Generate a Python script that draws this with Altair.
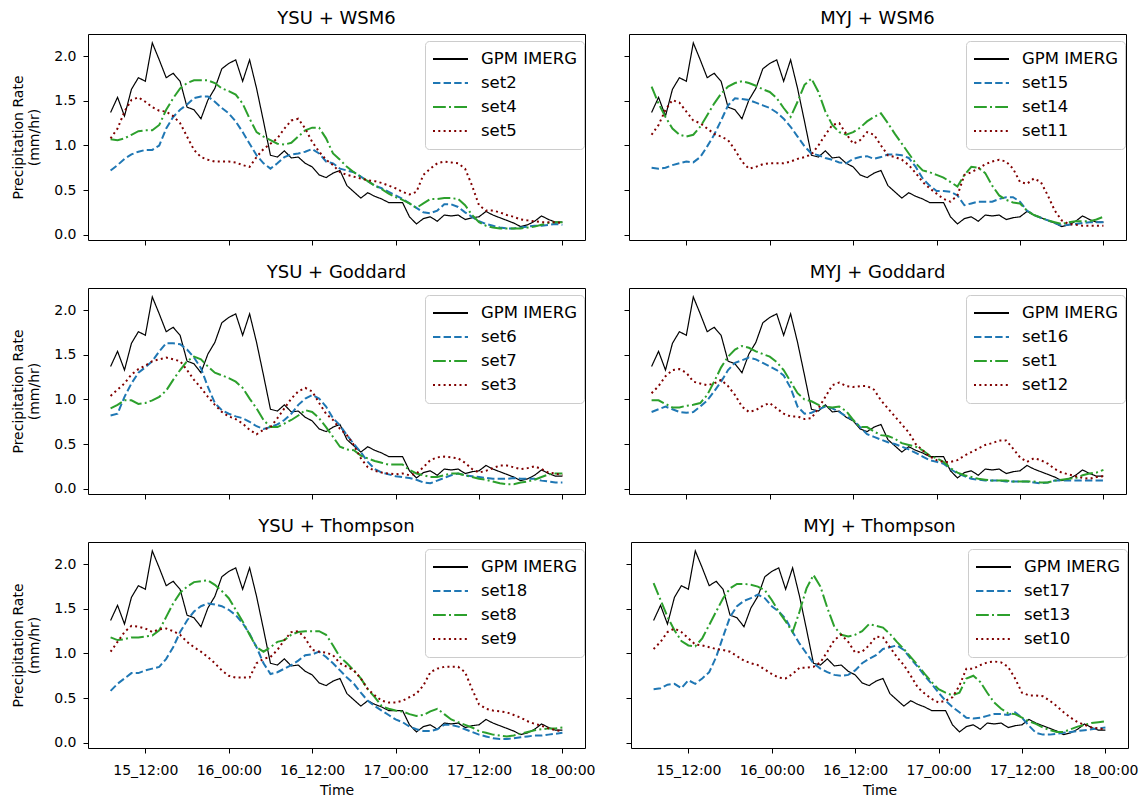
import altair as alt
import pandas as pd

# hours after 15_00:00 (hourly, 15_07:00 ... 18_00:00)
hours = list(range(7, 73))

gpm = [1.37, 1.54, 1.33, 1.63, 1.76, 1.72, 2.15, 1.96, 1.76, 1.81, 1.72, 1.43, 1.40, 1.30, 1.51, 1.64, 1.86,
       1.92, 1.96, 1.72, 1.96, 1.64, 1.27, 0.89, 0.87, 0.94, 0.86, 0.87, 0.80, 0.76, 0.67, 0.64, 0.69,
       0.72, 0.55, 0.48, 0.41, 0.47, 0.43, 0.40, 0.36, 0.36, 0.36, 0.20, 0.12, 0.18, 0.20, 0.15, 0.22,
       0.21, 0.22, 0.17, 0.19, 0.20, 0.26, 0.22, 0.19, 0.16, 0.13, 0.09, 0.11, 0.15, 0.21, 0.17, 0.14, 0.14]

set2 = [0.72, 0.78, 0.85, 0.90, 0.93, 0.95, 0.95, 1.00, 1.19, 1.32, 1.40, 1.46, 1.53, 1.55, 1.55, 1.49, 1.42,
        1.36, 1.27, 1.15, 1.02, 0.89, 0.80, 0.74, 0.80, 0.87, 0.90, 0.91, 0.93, 0.96, 0.91, 0.82, 0.80,
        0.74, 0.72, 0.70, 0.65, 0.60, 0.55, 0.52, 0.48, 0.44, 0.40, 0.35, 0.30, 0.25, 0.24, 0.27, 0.34,
        0.34, 0.31, 0.25, 0.20, 0.15, 0.12, 0.10, 0.08, 0.07, 0.07, 0.08, 0.09, 0.10, 0.10, 0.11, 0.12, 0.11]
set4 = [1.07, 1.06, 1.08, 1.12, 1.16, 1.17, 1.17, 1.23, 1.40, 1.53, 1.64, 1.70, 1.73, 1.73, 1.73, 1.70, 1.64,
        1.61, 1.57, 1.47, 1.30, 1.15, 1.10, 1.06, 1.02, 1.01, 1.03, 1.10, 1.17, 1.20, 1.20, 1.08, 0.91,
        0.84, 0.76, 0.70, 0.65, 0.60, 0.55, 0.51, 0.46, 0.42, 0.39, 0.35, 0.30, 0.35, 0.40, 0.40, 0.41,
        0.41, 0.40, 0.33, 0.22, 0.14, 0.10, 0.08, 0.07, 0.07, 0.07, 0.07, 0.08, 0.09, 0.11, 0.13, 0.14, 0.14]
set5 = [1.08, 1.19, 1.38, 1.51, 1.54, 1.49, 1.43, 1.39, 1.38, 1.33, 1.25, 1.10, 0.95, 0.87, 0.84, 0.82, 0.82,
        0.82, 0.81, 0.78, 0.76, 0.87, 0.96, 1.02, 1.08, 1.19, 1.28, 1.30, 1.19, 1.04, 0.93, 0.84, 0.78,
        0.70, 0.67, 0.65, 0.63, 0.61, 0.60, 0.58, 0.55, 0.52, 0.48, 0.45, 0.48, 0.67, 0.74, 0.80, 0.82,
        0.81, 0.80, 0.74, 0.55, 0.33, 0.27, 0.27, 0.25, 0.22, 0.20, 0.17, 0.16, 0.15, 0.14, 0.14, 0.14, 0.13]
set15 = [0.75, 0.74, 0.75, 0.78, 0.80, 0.82, 0.81, 0.87, 0.99, 1.12, 1.28, 1.45, 1.53, 1.52, 1.51, 1.48, 1.45,
         1.42, 1.37, 1.30, 1.21, 1.10, 0.99, 0.91, 0.89, 0.86, 0.84, 0.81, 0.80, 0.85, 0.87, 0.88, 0.85,
         0.87, 0.90, 0.90, 0.89, 0.86, 0.76, 0.63, 0.55, 0.49, 0.49, 0.48, 0.44, 0.33, 0.35, 0.37, 0.37,
         0.37, 0.40, 0.42, 0.42, 0.37, 0.27, 0.22, 0.19, 0.16, 0.13, 0.10, 0.11, 0.12, 0.13, 0.14, 0.14, 0.14]
set14 = [1.66, 1.47, 1.32, 1.19, 1.12, 1.10, 1.12, 1.21, 1.34, 1.47, 1.58, 1.66, 1.70, 1.72, 1.70, 1.67, 1.63,
         1.60, 1.53, 1.42, 1.32, 1.49, 1.68, 1.75, 1.60, 1.38, 1.23, 1.15, 1.12, 1.15, 1.20, 1.27, 1.32,
         1.36, 1.25, 1.13, 1.02, 0.91, 0.80, 0.72, 0.70, 0.67, 0.64, 0.59, 0.54, 0.67, 0.76, 0.75, 0.69,
         0.55, 0.44, 0.39, 0.36, 0.35, 0.27, 0.22, 0.19, 0.16, 0.14, 0.12, 0.14, 0.15, 0.15, 0.15, 0.17, 0.20]
set11 = [1.12, 1.23, 1.40, 1.51, 1.48, 1.38, 1.28, 1.25, 1.19, 1.13, 1.10, 1.06, 0.95, 0.82, 0.74, 0.76, 0.79,
         0.80, 0.80, 0.80, 0.82, 0.85, 0.87, 0.90, 1.00, 1.12, 1.23, 1.25, 1.13, 1.02, 1.06, 1.15, 1.12,
         1.00, 0.89, 0.87, 0.84, 0.78, 0.69, 0.59, 0.52, 0.46, 0.40, 0.37, 0.44, 0.67, 0.70, 0.74, 0.79,
         0.82, 0.84, 0.82, 0.74, 0.59, 0.57, 0.63, 0.59, 0.44, 0.27, 0.16, 0.12, 0.11, 0.10, 0.10, 0.10, 0.10]
set6 = [0.82, 0.84, 1.03, 1.18, 1.30, 1.36, 1.43, 1.54, 1.63, 1.63, 1.62, 1.56, 1.47, 1.35, 1.14, 0.96, 0.88,
        0.84, 0.81, 0.79, 0.75, 0.70, 0.67, 0.69, 0.72, 0.77, 0.84, 0.94, 1.01, 1.05, 1.01, 0.92, 0.79,
        0.71, 0.60, 0.50, 0.41, 0.30, 0.22, 0.18, 0.16, 0.14, 0.13, 0.12, 0.10, 0.07, 0.06, 0.09, 0.12,
        0.15, 0.17, 0.15, 0.14, 0.13, 0.12, 0.11, 0.11, 0.11, 0.12, 0.11, 0.11, 0.11, 0.09, 0.08, 0.07, 0.07]
set7 = [0.90, 0.94, 0.99, 0.99, 0.95, 0.96, 0.99, 1.03, 1.10, 1.22, 1.33, 1.43, 1.48, 1.45, 1.37, 1.30, 1.27,
        1.24, 1.20, 1.13, 1.01, 0.90, 0.77, 0.69, 0.69, 0.73, 0.77, 0.82, 0.88, 0.86, 0.79, 0.69, 0.58,
        0.47, 0.44, 0.43, 0.37, 0.34, 0.31, 0.29, 0.27, 0.27, 0.27, 0.21, 0.17, 0.15, 0.13, 0.13, 0.15,
        0.17, 0.17, 0.15, 0.13, 0.11, 0.10, 0.08, 0.06, 0.05, 0.05, 0.07, 0.08, 0.10, 0.13, 0.16, 0.17, 0.17]
set3 = [1.04, 1.11, 1.18, 1.28, 1.34, 1.38, 1.43, 1.45, 1.47, 1.45, 1.43, 1.33, 1.22, 1.13, 1.03, 0.94, 0.86,
        0.81, 0.78, 0.73, 0.66, 0.61, 0.66, 0.69, 0.79, 0.90, 1.01, 1.09, 1.13, 1.09, 0.96, 0.84, 0.77,
        0.67, 0.60, 0.49, 0.34, 0.24, 0.20, 0.18, 0.17, 0.16, 0.17, 0.15, 0.17, 0.24, 0.32, 0.35, 0.36,
        0.35, 0.34, 0.29, 0.22, 0.18, 0.20, 0.23, 0.26, 0.26, 0.24, 0.22, 0.23, 0.25, 0.22, 0.18, 0.17, 0.15]
set16 = [0.86, 0.89, 0.92, 0.89, 0.86, 0.85, 0.86, 0.92, 0.99, 1.09, 1.20, 1.33, 1.41, 1.44, 1.47, 1.45, 1.41,
         1.37, 1.33, 1.27, 1.13, 0.92, 0.84, 0.85, 0.89, 0.92, 0.90, 0.86, 0.81, 0.77, 0.69, 0.61, 0.58,
         0.55, 0.52, 0.50, 0.47, 0.44, 0.40, 0.36, 0.32, 0.30, 0.28, 0.22, 0.17, 0.14, 0.11, 0.10, 0.09,
         0.09, 0.09, 0.08, 0.08, 0.08, 0.08, 0.07, 0.06, 0.07, 0.09, 0.09, 0.09, 0.09, 0.09, 0.09, 0.09, 0.09]
set1 = [0.99, 0.99, 0.95, 0.91, 0.91, 0.93, 0.94, 0.96, 1.05, 1.20, 1.36, 1.48, 1.56, 1.60, 1.58, 1.54, 1.51,
        1.48, 1.42, 1.33, 1.20, 1.07, 1.00, 0.98, 0.94, 0.92, 0.91, 0.92, 0.87, 0.77, 0.69, 0.69, 0.64,
        0.60, 0.59, 0.56, 0.51, 0.49, 0.47, 0.43, 0.37, 0.34, 0.30, 0.23, 0.18, 0.15, 0.13, 0.11, 0.10,
        0.09, 0.09, 0.09, 0.08, 0.08, 0.08, 0.08, 0.07, 0.07, 0.09, 0.10, 0.11, 0.12, 0.15, 0.17, 0.18, 0.21]
set12 = [1.07, 1.15, 1.26, 1.33, 1.34, 1.30, 1.20, 1.18, 1.16, 1.18, 1.22, 1.15, 1.05, 0.92, 0.86, 0.88, 0.93,
         0.96, 0.90, 0.84, 0.81, 0.81, 0.78, 0.79, 0.90, 1.03, 1.16, 1.19, 1.15, 1.14, 1.15, 1.15, 1.11,
         0.99, 0.90, 0.81, 0.72, 0.63, 0.50, 0.43, 0.36, 0.32, 0.30, 0.30, 0.32, 0.37, 0.41, 0.45, 0.49,
         0.51, 0.54, 0.54, 0.45, 0.35, 0.30, 0.34, 0.32, 0.28, 0.22, 0.18, 0.16, 0.14, 0.12, 0.11, 0.13, 0.14]
set18 = [0.58, 0.66, 0.72, 0.78, 0.78, 0.81, 0.83, 0.85, 0.94, 1.07, 1.24, 1.37, 1.47, 1.53, 1.56, 1.55, 1.53,
         1.49, 1.43, 1.34, 1.22, 1.07, 0.89, 0.77, 0.79, 0.83, 0.87, 0.92, 0.98, 0.99, 1.02, 0.96, 0.89,
         0.81, 0.73, 0.66, 0.56, 0.47, 0.41, 0.36, 0.31, 0.26, 0.23, 0.18, 0.15, 0.13, 0.13, 0.15, 0.20,
         0.20, 0.18, 0.15, 0.12, 0.09, 0.07, 0.05, 0.04, 0.04, 0.05, 0.06, 0.07, 0.08, 0.08, 0.09, 0.10, 0.11]
set8 = [1.18, 1.15, 1.16, 1.18, 1.18, 1.19, 1.20, 1.26, 1.41, 1.56, 1.68, 1.75, 1.80, 1.81, 1.82, 1.77, 1.70,
        1.62, 1.49, 1.36, 1.21, 1.07, 1.02, 1.07, 1.13, 1.15, 1.21, 1.24, 1.25, 1.25, 1.25, 1.21, 1.09,
        0.96, 0.89, 0.81, 0.72, 0.60, 0.51, 0.41, 0.38, 0.36, 0.35, 0.32, 0.30, 0.31, 0.35, 0.38, 0.32,
        0.26, 0.23, 0.20, 0.17, 0.13, 0.11, 0.09, 0.08, 0.07, 0.08, 0.10, 0.12, 0.14, 0.15, 0.16, 0.16, 0.17]
set9 = [1.02, 1.13, 1.24, 1.31, 1.30, 1.28, 1.24, 1.27, 1.28, 1.25, 1.21, 1.13, 1.07, 1.02, 0.96, 0.89, 0.81,
        0.75, 0.73, 0.73, 0.73, 0.89, 0.94, 0.96, 1.04, 1.15, 1.24, 1.25, 1.17, 1.04, 1.02, 1.01, 0.98,
        0.89, 0.85, 0.81, 0.72, 0.60, 0.53, 0.47, 0.45, 0.45, 0.47, 0.51, 0.55, 0.64, 0.79, 0.83, 0.85,
        0.85, 0.85, 0.79, 0.60, 0.43, 0.38, 0.36, 0.35, 0.34, 0.31, 0.28, 0.24, 0.21, 0.19, 0.16, 0.14, 0.13]
set17 = [0.60, 0.61, 0.65, 0.66, 0.61, 0.70, 0.66, 0.72, 0.79, 0.96, 1.19, 1.41, 1.53, 1.59, 1.62, 1.66, 1.62,
         1.53, 1.47, 1.39, 1.24, 1.11, 1.00, 0.89, 0.83, 0.79, 0.76, 0.75, 0.76, 0.81, 0.89, 0.94, 0.98,
         1.05, 1.07, 1.09, 1.04, 0.94, 0.85, 0.75, 0.66, 0.56, 0.47, 0.40, 0.34, 0.28, 0.27, 0.28, 0.30,
         0.32, 0.32, 0.31, 0.34, 0.28, 0.19, 0.11, 0.09, 0.09, 0.10, 0.11, 0.12, 0.13, 0.14, 0.15, 0.16, 0.17]
set13 = [1.79, 1.60, 1.41, 1.26, 1.14, 1.09, 1.08, 1.17, 1.32, 1.47, 1.62, 1.73, 1.78, 1.78, 1.77, 1.75, 1.71,
         1.60, 1.47, 1.36, 1.24, 1.47, 1.73, 1.88, 1.75, 1.51, 1.30, 1.21, 1.19, 1.21, 1.25, 1.33, 1.31,
         1.29, 1.22, 1.13, 1.05, 0.96, 0.87, 0.77, 0.68, 0.60, 0.56, 0.53, 0.56, 0.72, 0.75, 0.68, 0.56,
         0.45, 0.38, 0.33, 0.32, 0.28, 0.24, 0.21, 0.17, 0.14, 0.12, 0.12, 0.15, 0.18, 0.20, 0.22, 0.23, 0.24]
set10 = [1.05, 1.13, 1.24, 1.28, 1.24, 1.17, 1.10, 1.09, 1.07, 1.05, 1.04, 1.02, 0.97, 0.92, 0.89, 0.87, 0.82,
         0.77, 0.73, 0.72, 0.77, 0.84, 0.84, 0.85, 0.90, 1.02, 1.15, 1.21, 1.13, 1.01, 1.02, 1.09, 1.19,
         1.18, 1.07, 0.96, 0.87, 0.75, 0.62, 0.55, 0.49, 0.45, 0.47, 0.51, 0.64, 0.83, 0.83, 0.87, 0.90,
         0.91, 0.90, 0.85, 0.72, 0.56, 0.53, 0.53, 0.52, 0.47, 0.41, 0.34, 0.28, 0.23, 0.20, 0.17, 0.16, 0.15]

sets = {"set1": set1, "set2": set2, "set3": set3, "set4": set4, "set5": set5, "set6": set6,
        "set7": set7, "set8": set8, "set9": set9, "set10": set10, "set11": set11, "set12": set12,
        "set13": set13, "set14": set14, "set15": set15, "set16": set16, "set17": set17, "set18": set18}

panel_titles = ["YSU + WSM6", "MYJ + WSM6", "YSU + Goddard", "MYJ + Goddard", "YSU + Thompson", "MYJ + Thompson"]
panel_sets = [["set2", "set4", "set5"], ["set15", "set14", "set11"],
              ["set6", "set7", "set3"], ["set16", "set1", "set12"],
              ["set18", "set8", "set9"], ["set17", "set13", "set10"]]

tick_hours = [12, 24, 36, 48, 60, 72]
tick_labels = ["15_12:00", "16_00:00", "16_12:00", "17_00:00", "17_12:00", "18_00:00"]
y_ticks = [0.0, 0.5, 1.0, 1.5, 2.0]

label_expr = "".join(f"datum.value == {h} ? '{l}' : " for h, l in zip(tick_hours, tick_labels)) + "''"

COLORS = ["#000000", "#1f77b4", "#2ca02c", "#800000"]
DASHES = [[1, 0], [7.4, 3.2], [12.8, 3.2, 2, 3.2], [2, 3.3]]
FONT = "DejaVu Sans"
PW, PH = 497, 206


def panel(idx):
    names = panel_sets[idx]
    dom = ["GPM IMERG"] + names
    rows = []
    for name, vals in [("GPM IMERG", gpm)] + [(n, sets[n]) for n in names]:
        for h, v in zip(hours, vals):
            rows.append({"hour": h, "rate": v, "series": name})
    df = pd.DataFrame(rows)
    left = idx % 2 == 0
    bottom = idx >= 4
    legend = alt.Legend(title=None, orient="none", legendX=337, legendY=7, fillColor="white",
                        strokeColor="#cccccc", cornerRadius=4, padding=7,
                        symbolType="stroke", symbolSize=1225, symbolStrokeWidth=2,
                        labelFont=FONT, labelFontSize=16.5, labelColor="black",
                        labelOffset=12, rowPadding=2, clipHeight=22)
    x_axis = alt.Axis(values=tick_hours, labelExpr=label_expr, labels=bottom,
                      title="Time" if bottom else None, grid=False, labelPadding=10, titlePadding=6)
    if left:
        y_axis = alt.Axis(values=y_ticks, format=".1f", grid=False, labelPadding=7, titlePadding=12,
                          title=["Precipitation Rate", "(mm/hr)"])
    else:
        y_axis = alt.Axis(values=y_ticks, format=".1f", grid=False, labels=False, title=None)
    base = alt.Chart(df).encode(
        x=alt.X("hour:Q", scale=alt.Scale(domain=[3.75, 75.25], nice=False, zero=False), axis=x_axis),
        y=alt.Y("rate:Q", scale=alt.Scale(domain=[-0.06, 2.25], nice=False, zero=False), axis=y_axis),
        color=alt.Color("series:N", scale=alt.Scale(domain=dom, range=COLORS), legend=legend),
        strokeDash=alt.StrokeDash("series:N", scale=alt.Scale(domain=dom, range=DASHES), legend=legend),
        order=alt.Order("hour:Q"),
    )
    obs = base.mark_line(strokeWidth=1.2).transform_filter(alt.datum.series == "GPM IMERG")
    sim = base.mark_line(strokeWidth=2).transform_filter(alt.datum.series != "GPM IMERG")
    return alt.layer(obs, sim).properties(
        width=PW, height=PH,
        title=alt.TitleParams(panel_titles[idx], fontSize=18, font=FONT, fontWeight="normal", offset=6),
    )


def row(i, spacing):
    return alt.hconcat(panel(2 * i), panel(2 * i + 1), spacing=spacing).resolve_scale(
        color="independent", strokeDash="independent").resolve_legend(
        color="independent", strokeDash="independent")


# the bottom-left panel's last tick label overhangs its plot by ~8 px, so that row needs less spacing
chart = alt.vconcat(row(0, 37), row(1, 37), row(2, 29), spacing=17).resolve_scale(
    color="independent", strokeDash="independent").resolve_legend(
    color="independent", strokeDash="independent").properties(
    padding={"left": 11, "top": 9, "right": 5, "bottom": 5}, background="white"
).configure_view(stroke="black", strokeWidth=1).configure_axis(
    labelFont=FONT, labelFontSize=14, labelColor="black", titleFont=FONT, titleFontSize=14,
    titleFontWeight="normal", titleColor="black", domain=False, tickColor="black", tickSize=5,
    tickWidth=1
)

chart.save("out.html", embed_options={"renderer": "svg", "actions": False})
